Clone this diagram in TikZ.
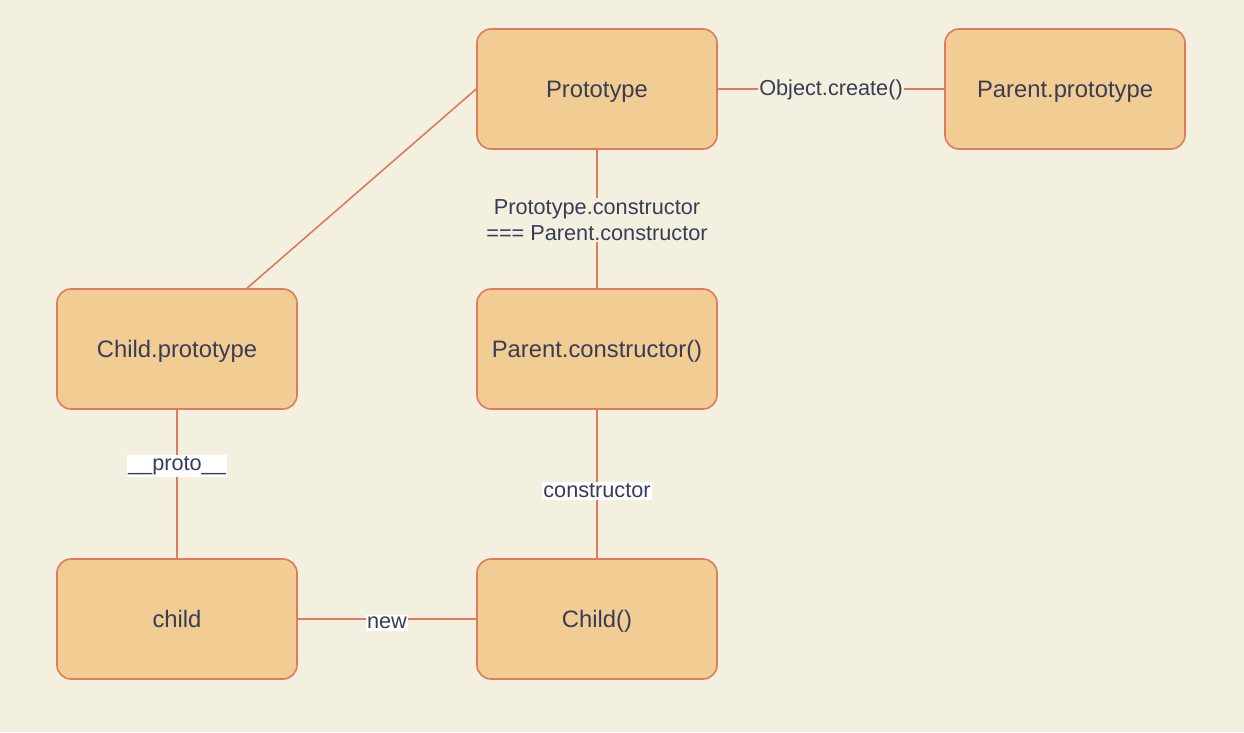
\documentclass[tikz,border=0pt]{standalone}
\usepackage{fontspec}
\setmainfont{Liberation Sans}
\definecolor{bgc}{HTML}{F4F0DF}
\definecolor{boxfill}{HTML}{F1CD93}
\definecolor{edgec}{HTML}{E07A5F}
\definecolor{txt}{HTML}{393C56}
\begin{document}
\begin{tikzpicture}[x=1pt,y=-1pt,
  box/.style={draw=edgec, line width=1.6pt, fill=boxfill, rounded corners=14pt,
    minimum width=240pt, minimum height=120pt, text=txt,
    text height=17pt, text depth=0pt,
    font=\fontsize{23.8}{28}\selectfont},
  conn/.style={draw=edgec, line width=1.6pt},
  lbl/.style={fill=bgc, text=txt, inner xsep=1pt, inner ysep=1pt,
    font=\fontsize{21.7}{26}\selectfont},
  wlbl/.style={fill=white, text=txt, inner xsep=1.5pt, inner ysep=2pt,
    font=\fontsize{21.7}{26}\selectfont}]
\fill[bgc] (0,0) rectangle (1244,732);
\useasboundingbox (0,0) rectangle (1244,732);
\node[box] (proto) at (597,89) {Prototype};
\node[box] (pp) at (1065,89) {Parent.prototype};
\node[box] (cp) at (177,349) {Child.prototype};
\node[box] (pc) at (597,349) {Parent.constructor()};
\node[box] (ch) at (177,619) {child};
\node[box] (cf) at (597,619) {Child()};
\path[conn] (proto) -- node[lbl, yshift=-1pt] {Object.create()} (pp);
\path[conn] (proto) -- node[lbl, align=center, yshift=-1pt] {Prototype.constructor\\=== Parent.constructor} (pc);
\path[conn] ([xshift=70pt]cp.north) -- (proto.west);
\path[conn] (cp) -- node[wlbl, pos=0.373, yshift=-1pt] {\_\_proto\_\_} (ch);
\path[conn] (pc) -- node[wlbl, pos=0.547] {constructor} (cf);
\path[conn] (ch) -- node[wlbl, pos=0.5, yshift=-4pt] {new} (cf);
\end{tikzpicture}
\end{document}
